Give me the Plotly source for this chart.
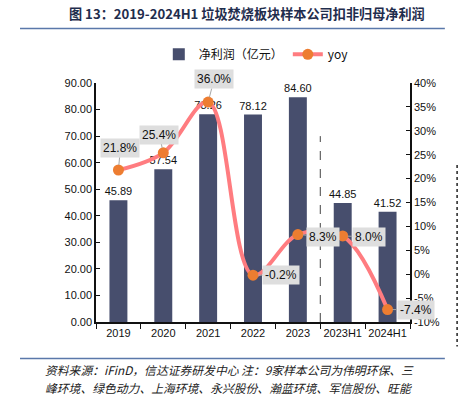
import plotly.graph_objects as go

categories = ["2019", "2020", "2021", "2022", "2023", "2023H1", "2024H1"]
profit = [45.89, 57.54, 78.26, 78.12, 84.60, 44.85, 41.52]
yoy = [21.8, 25.4, 36.0, -0.2, 8.3, 8.0, -7.4]
yoy_labels = ["21.8%", "25.4%", "36.0%", "-0.2%", "8.3%", "8.0%", "-7.4%"]
left_ticks = [0, 10, 20, 30, 40, 50, 60, 70, 80, 90]
right_ticks = [-10, -5, 0, 5, 10, 15, 20, 25, 30, 35, 40]
right_tick_text = ["-10%", "-5%", "0%", "5%", "10%", "15%", "20%", "25%", "30%", "35%", "40%"]

title_text = "图 13：2019-2024H1 垃圾焚烧板块样本公司扣非归母净利润"
footer_line1 = "资料来源：iFinD，信达证券研发中心 注：9家样本公司为伟明环保、三"
footer_line2 = "峰环境、绿色动力、上海环境、永兴股份、瀚蓝环境、军信股份、旺能"

BAR = "#474e6d"
LINE = "#ff7c80"
MARK = "#ed7d31"
FONT = "Liberation Sans, Arial, Noto Sans CJK SC, sans-serif"
CJK = "Noto Sans CJK SC, sans-serif"

fig = go.Figure()
fig.add_trace(go.Bar(
    x=categories, y=profit, name="净利润（亿元）",
    marker=dict(color=BAR, line=dict(width=0)),
    width=0.4,
    texttemplate="%{y:.2f}", textposition="outside", constraintext="none",
    textfont=dict(size=11, color="#111", family=FONT),
    cliponaxis=False, yaxis="y",
))
fig.add_trace(go.Scatter(
    x=categories, y=yoy, name="yoy", yaxis="y2",
    mode="lines+markers",
    line=dict(color=LINE, width=4, shape="spline", smoothing=1.0),
    marker=dict(color=MARK, size=11, line=dict(width=0)),
    cliponaxis=False,
))

offsets = [(2, -22), (-4, -18), (6, -23), (28, 0), (25, 2), (26, 1), (28, 0)]
for i, (v, t, (ax, ay)) in enumerate(zip(yoy, yoy_labels, offsets)):
    fig.add_annotation(
        x=i, y=v, xref="x", yref="y2", text=t,
        showarrow=True, arrowhead=0, arrowwidth=1, arrowcolor="#a6a6a6",
        ax=ax, ay=ay, standoff=5,
        bgcolor="#dedede", borderpad=2,
        font=dict(size=12, color="#111", family=FONT),
    )

# dashed separator between annual and half-year data
fig.add_shape(type="line", xref="x", yref="y", x0=4.5, x1=4.5, y0=0, y1=70,
              line=dict(color="#444", width=1, dash="dash"))
# dotted mark at right edge
fig.add_shape(type="line", xref="paper", yref="paper", x0=1.15, x1=1.15, y0=0.657, y1=-0.103,
              line=dict(color="#222", width=1.5, dash="dot"))
# title underline and footer rule
fig.add_shape(type="line", xref="paper", yref="paper", x0=-0.242, x1=1.111, y0=1.228, y1=1.228,
              line=dict(color="#5a78aa", width=1.5))
fig.add_shape(type="line", xref="paper", yref="paper", x0=-0.242, x1=1.111, y0=-0.153, y1=-0.153,
              line=dict(color="#5a78aa", width=1.5))

fig.add_annotation(x=0.482, xref="paper", y=1.289, yref="paper", text=f"<b>{title_text}</b>",
                   showarrow=False, xanchor="center", yanchor="middle",
                   font=dict(size=13.15, color="#1f2d4d", family=CJK))
fig.add_annotation(x=-0.169, xref="paper", y=-0.199, yref="paper", text=footer_line1,
                   showarrow=False, xanchor="left", yanchor="middle", align="left",
                   font=dict(size=11.8, color="#222", family=CJK, style="italic"))
fig.add_annotation(x=-0.169, xref="paper", y=-0.274, yref="paper", text=footer_line2,
                   showarrow=False, xanchor="left", yanchor="middle", align="left",
                   font=dict(size=11.8, color="#222", family=CJK, style="italic"))

fig.update_layout(
    width=459, height=397,
    margin=dict(l=96, r=49, t=83, b=75, autoexpand=False),
    paper_bgcolor="white", plot_bgcolor="white",
    font=dict(family=FONT, size=11, color="#111"),
    showlegend=True,
    legend=dict(orientation="h", x=0.2, y=1.12, xanchor="left", yanchor="middle",
                font=dict(size=12, family=CJK, color="#111"),
                itemwidth=30, bgcolor="rgba(0,0,0,0)"),
    bargap=0.6,
    xaxis=dict(type="category", categoryorder="array", categoryarray=categories,
               range=[-0.5, 6.5], autorange=False, automargin=False, tickangle=0,
               showline=True, linecolor="#111", linewidth=1.5,
               ticks="outside", tickson="boundaries", ticklen=5, tickcolor="#111",
               showgrid=False, tickfont=dict(size=11, color="#111")),
    yaxis=dict(range=[0, 90], tickmode="array", tickvals=left_ticks, tickformat=".2f",
               automargin=False,
               showline=True, linecolor="#111", linewidth=1.5,
               ticks="inside", ticklen=4, tickcolor="#111", showgrid=False, zeroline=False,
               tickfont=dict(size=11, color="#111")),
    yaxis2=dict(range=[-10, 40], tickmode="array", tickvals=right_ticks, ticktext=right_tick_text,
                overlaying="y", side="right", automargin=False,
                showline=True, linecolor="#111", linewidth=1.5,
                ticks="inside", ticklen=4, tickcolor="#111", showgrid=False, zeroline=False,
                tickfont=dict(size=11, color="#111")),
)

fig.write_html("out.html", config={"displayModeBar": False},
               post_script="document.body.style.margin='0';document.body.style.padding='0';")
